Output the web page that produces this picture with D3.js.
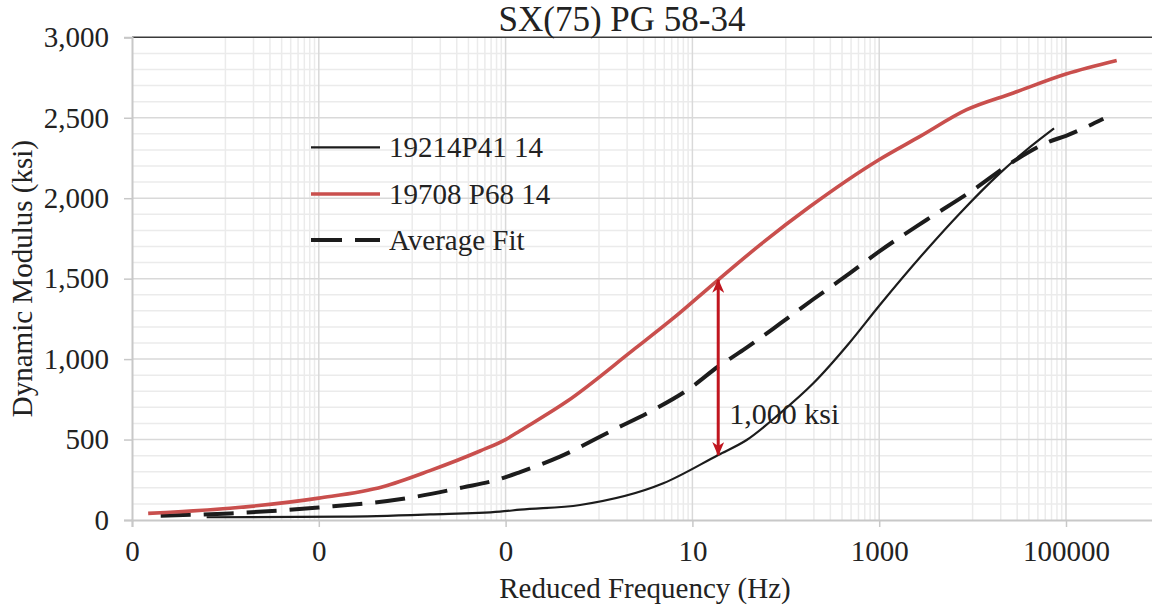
<!DOCTYPE html>
<html>
<head>
<meta charset="utf-8">
<script src="https://cdn.jsdelivr.net/npm/d3@7"></script>
<style>
  body { margin: 0; background: #ffffff; }
  svg { display: block; }
  text { font-family: "Liberation Serif", "Times New Roman", serif; fill: #222222; }
</style>
</head>
<body>
<svg id="chart" width="1152" height="608"></svg>
<script>
// ---------------- data ----------------
const chartTitle = "SX(75) PG 58-34";
const xAxisTitle = "Reduced Frequency (Hz)";
const yAxisTitle = "Dynamic Modulus (ksi)";

const seriesNames = ["19214P41 14", "19708 P68 14", "Average Fit"];

// 19214P41 14 (black solid)
const freqP41 = [6.3e-5, 1.82e-3, 0.0155, 0.087, 0.143, 0.627, 4.88, 18.9, 38.1, 86.7, 197, 486, 995, 3227, 7330, 19640, 37930, 74460];
const modP41  = [17, 21, 35, 52, 64, 93, 228, 404, 497, 663, 850, 1105, 1330, 1680, 1907, 2156, 2301, 2434];

// 19708 P68 14 (red solid)
const freqP68 = [1.49e-5, 1.12e-4, 1.0e-3, 4.86e-3, 0.0155, 0.0532, 0.1, 0.143, 0.451, 2.33, 6.25, 18.9, 53, 181.6, 995, 2735, 8650, 27300, 1e5, 3.49e5];
const modP68  = [41, 73, 136, 207, 307, 429, 500, 555, 736, 1057, 1254, 1493, 1710, 1948, 2239, 2384, 2550, 2654, 2772, 2856];

// Average Fit (black dashed)
const freqAvg = [2.03e-5, 1.12e-4, 1e-3, 8.73e-3, 0.035, 0.0804, 0.143, 0.382, 1.42, 3.81, 9.42, 18.9, 35.1, 86.7, 197, 486, 995, 3227, 10180, 27300, 67400, 1e5, 2.51e5];
const modAvg  = [27, 41, 78, 135, 203, 249, 298, 394, 560, 684, 819, 954, 1057, 1220, 1372, 1534, 1668, 1866, 2052, 2228, 2353, 2388, 2494];

// axis ticks
const xTickValues = [1e-5, 1e-3, 1e-1, 10, 1000, 100000];
const xTickLabels = ["0", "0", "0", "10", "1000", "100000"];
const yTickValues = [0, 500, 1000, 1500, 2000, 2500, 3000];
const yTickLabels = ["0", "500", "1,000", "1,500", "2,000", "2,500", "3,000"];

// annotation (difference arrow)
const arrowFreq = [18.9];
const arrowFrom = [404];
const arrowTo   = [1493];
const arrowLabel = ["1,000 ksi"];

// ---------------- drawing ----------------
const svg = d3.select("#chart");
const plot = { left: 132, right: 1159.4, top: 37.3, bottom: 520 };
const serif = '"Liberation Serif", "Times New Roman", serif';

const x = d3.scaleLog().domain([1e-5, 1e6]).range([plot.left, plot.right]);
const y = d3.scaleLinear().domain([0, 3000]).range([plot.bottom, plot.top]);

svg.append("rect").attr("width", 1152).attr("height", 608).attr("fill", "#ffffff");

// minor vertical gridlines (10,20,...,90 x each base-100 major)
const minorX = [];
xTickValues.forEach(b => { for (let k = 1; k <= 9; k++) { const v = b * 10 * k; if (v < 1e6) minorX.push(v); } });
svg.append("g").selectAll("line").data(minorX).join("line")
  .attr("x1", d => x(d)).attr("x2", d => x(d))
  .attr("y1", plot.top).attr("y2", plot.bottom)
  .attr("stroke", "#ebebeb").attr("stroke-width", 1.5);

// minor horizontal gridlines
const minorY = d3.range(100, 3000, 100).filter(v => v % 500 !== 0);
svg.append("g").selectAll("line").data(minorY).join("line")
  .attr("x1", plot.left).attr("x2", 1152)
  .attr("y1", d => y(d)).attr("y2", d => y(d))
  .attr("stroke", "#ebebeb").attr("stroke-width", 1.5);

// major vertical gridlines
svg.append("g").selectAll("line").data(xTickValues.slice(1)).join("line")
  .attr("x1", d => x(d)).attr("x2", d => x(d))
  .attr("y1", plot.top).attr("y2", plot.bottom)
  .attr("stroke", "#d9d9d9").attr("stroke-width", 1.5);

// major horizontal gridlines
svg.append("g").selectAll("line").data(yTickValues.slice(1, -1)).join("line")
  .attr("x1", plot.left).attr("x2", 1152)
  .attr("y1", d => y(d)).attr("y2", d => y(d))
  .attr("stroke", "#d9d9d9").attr("stroke-width", 1.5);

// top border
svg.append("line").attr("x1", plot.left).attr("x2", 1152)
  .attr("y1", y(3000)).attr("y2", y(3000))
  .attr("stroke", "#3a3a3a").attr("stroke-width", 1.5);

// y axis
const yAxis = d3.axisLeft(y).tickValues(yTickValues)
  .tickFormat((d, i) => yTickLabels[i]).tickSize(8).tickPadding(15);
const gy = svg.append("g").attr("transform", `translate(${plot.left},0)`).call(yAxis);
gy.select(".domain").attr("stroke", "#c8c8c8").attr("stroke-width", 2);
gy.selectAll(".tick line").attr("stroke", "#c8c8c8").attr("stroke-width", 1.5);
gy.selectAll(".tick text").style("font-size", "29px").style("font-family", serif).style("fill", "#222");

// x axis
const xAxis = d3.axisBottom(x).tickValues(xTickValues)
  .tickFormat((d, i) => xTickLabels[i]).tickSize(7).tickPadding(13);
const gx = svg.append("g").attr("transform", `translate(0,${plot.bottom})`).call(xAxis);
gx.select(".domain").attr("stroke", "#c8c8c8").attr("stroke-width", 2);
gx.selectAll(".tick line").attr("stroke", "#c8c8c8").attr("stroke-width", 1.5);
gx.selectAll(".tick text").style("font-size", "29px").style("font-family", serif).style("fill", "#222");

// series
const line = d3.line().x(d => x(d[0])).y(d => y(d[1])).curve(d3.curveMonotoneX);
const zip = (a, b) => a.map((v, i) => [v, b[i]]);

svg.append("path").datum(zip(freqAvg, modAvg)).attr("d", line)
  .attr("fill", "none").attr("stroke", "#1c1c1c").attr("stroke-width", 4)
  .attr("stroke-dasharray", "30,13");

svg.append("path").datum(zip(freqP41, modP41)).attr("d", line)
  .attr("fill", "none").attr("stroke", "#1c1c1c").attr("stroke-width", 2.2);

svg.append("path").datum(zip(freqP68, modP68)).attr("d", line)
  .attr("fill", "none").attr("stroke", "#c94f4d").attr("stroke-width", 3.6);

// arrow annotation
const defs = svg.append("defs");
defs.append("marker").attr("id", "ah").attr("viewBox", "0 -6 14 12")
  .attr("refX", 13).attr("refY", 0).attr("markerWidth", 14).attr("markerHeight", 12)
  .attr("markerUnits", "userSpaceOnUse").attr("orient", "auto-start-reverse")
  .append("path").attr("d", "M0,-6 L14,0 L0,6 L4,0 Z").attr("fill", "#c0161f");

svg.append("g").selectAll("line").data(arrowFreq).join("line")
  .attr("x1", d => x(d)).attr("x2", d => x(d))
  .attr("y1", (d, i) => y(arrowFrom[i])).attr("y2", (d, i) => y(arrowTo[i]))
  .attr("stroke", "#c0161f").attr("stroke-width", 3)
  .attr("marker-start", "url(#ah)").attr("marker-end", "url(#ah)");

svg.append("g").selectAll("text").data(arrowFreq).join("text")
  .attr("x", d => x(d) + 11)
  .attr("y", (d, i) => y((arrowFrom[i] + arrowTo[i]) / 2) + 57)
  .attr("font-size", 30).text((d, i) => arrowLabel[i]);

// legend
const legendY = [147.3, 194, 240];
const legendStyles = [
  { stroke: "#1c1c1c", width: 2.2, dash: null },
  { stroke: "#c94f4d", width: 3.6, dash: null },
  { stroke: "#1c1c1c", width: 4, dash: "31,13" }
];
const lg = svg.append("g");
seriesNames.forEach((name, i) => {
  lg.append("line").attr("x1", 311).attr("x2", 380)
    .attr("y1", legendY[i]).attr("y2", legendY[i])
    .attr("stroke", legendStyles[i].stroke).attr("stroke-width", legendStyles[i].width)
    .attr("stroke-dasharray", legendStyles[i].dash);
  lg.append("text").attr("x", 389).attr("y", legendY[i] + 10)
    .attr("font-size", 29).text(name);
});

// titles
svg.append("text").attr("x", 622).attr("y", 31).attr("text-anchor", "middle")
  .attr("font-size", 35).text(chartTitle);
svg.append("text").attr("x", 645).attr("y", 598).attr("text-anchor", "middle")
  .attr("font-size", 29).text(xAxisTitle);
svg.append("text").attr("transform", `translate(32,${(plot.top + plot.bottom) / 2}) rotate(-90)`)
  .attr("text-anchor", "middle").attr("font-size", 29).text(yAxisTitle);
</script>
</body>
</html>
